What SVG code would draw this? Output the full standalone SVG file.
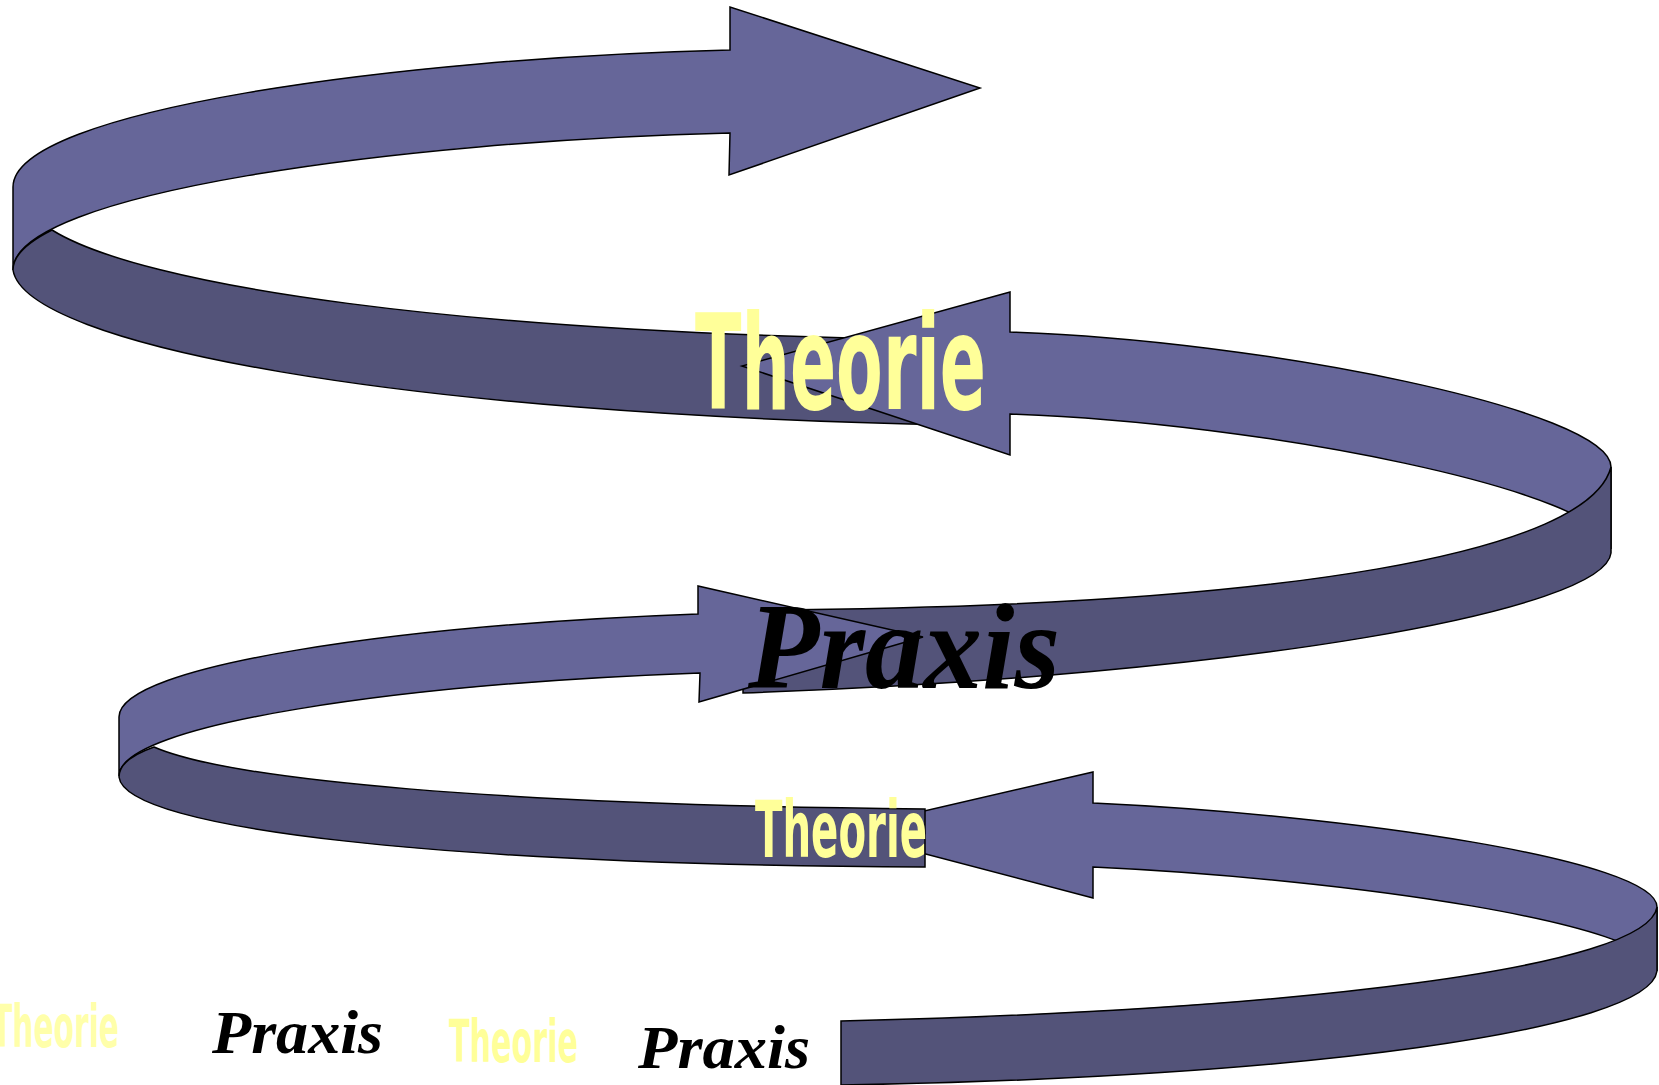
<svg xmlns="http://www.w3.org/2000/svg" width="1659" height="1085" viewBox="0 0 1659 1085">
<style>
.back{fill:#666699;stroke:#000;stroke-width:1.5;stroke-linejoin:miter}
.front{fill:#535379;stroke:#000;stroke-width:1.5;stroke-linejoin:miter}
.theo{font-family:'DejaVu Sans Condensed','DejaVu Sans',sans-serif;font-weight:bold;fill:#FFFF99}
.prax{font-family:'Liberation Serif','DejaVu Serif',serif;font-style:italic;font-weight:bold;fill:#000}
</style>
<rect width="1659" height="1085" fill="#fff"/>
<g id="arrow1">
<path class="back" d="M13,187 C13,110 400,58 730,50 L730,7 L980,88 L729,175 L730,133 C400,141 13,193 13,270 Z"/>
<path class="front" d="M13,270 C25,345 400,415 960,425 L960,340 C450,334 140,285 52,230 C32,240 13,254 13,270 Z"/>
</g>
<g id="arrow2">
<path class="back" d="M1010,332 C1260,340 1611,410 1611,467 L1611,549 C1611,492 1260,422 1010,414 L1010,455 L742,366 L1010,292 Z"/>
<path class="front" d="M1611,467 C1590,550 1300,608 743,610 L743,693 C1250,675 1605,610 1611,553 Z"/>
</g>
<g id="arrow4">
<path class="back" d="M1093,803 C1350,815 1657,860 1657,907 L1657,971 C1657,924 1350,879 1093,867 L1093,898 L838,831 L1093,772 Z"/>
<path class="front" d="M1657,907 C1648,968 1300,1010 841,1021 L841,1085 C1300,1078 1650,1030 1657,971 Z"/>
</g>
<g id="arrow3">
<path class="back" d="M698,614 C400,625 119,665 119,717 L119,776 C119,724 400,684 700,673 L699,702 L923,637 L698,586 Z"/>
<path class="front" d="M119,777 C125,830 450,865 925,867 L925,809 C500,805 230,780 154,747 C134,754 119,764 119,777 Z"/>
</g>
<g id="label-theorie-big"><text class="theo" x="695" y="409" font-size="132" textLength="291" lengthAdjust="spacingAndGlyphs">Theorie</text></g>
<g id="label-praxis-big"><text class="prax" x="748" y="688" font-size="122" textLength="312" lengthAdjust="spacingAndGlyphs">Praxis</text></g>
<g id="label-theorie-mid"><text class="theo" x="755" y="857" font-size="78" textLength="172" lengthAdjust="spacingAndGlyphs">Theorie</text></g>
<g id="label-theorie-b1"><text class="theo" x="-8" y="1047" font-size="58" textLength="127" lengthAdjust="spacingAndGlyphs" style="fill:#FFFFAA">Theorie</text></g>
<g id="label-praxis-b1"><text class="prax" x="212" y="1053" font-size="62" textLength="171" lengthAdjust="spacingAndGlyphs">Praxis</text></g>
<g id="label-theorie-b2"><text class="theo" x="449" y="1062" font-size="59" textLength="129" lengthAdjust="spacingAndGlyphs">Theorie</text></g>
<g id="label-praxis-b2"><text class="prax" x="638" y="1068" font-size="62" textLength="172" lengthAdjust="spacingAndGlyphs">Praxis</text></g>
</svg>
